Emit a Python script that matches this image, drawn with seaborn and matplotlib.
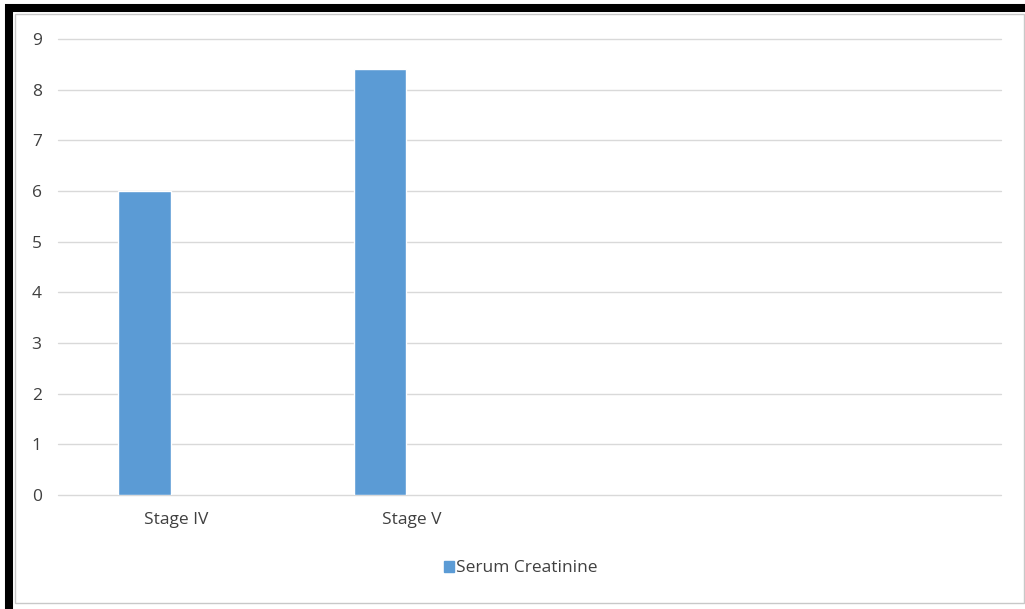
import pandas as pd
import seaborn as sns
import matplotlib.pyplot as plt
from matplotlib.patches import Rectangle

# values
stages = ['Stage IV', 'Stage V']
empty_slots = ['', ' ']
creatinine = [6.0, 8.4]
series = ['Serum Creatinine', 'blank']
yticks = list(range(0, 10))

df = pd.DataFrame({'stage': stages, 'value': creatinine, 'series': series[0]})

sns.set_style('white')
plt.rcParams['font.family'] = ['Open Sans', 'DejaVu Sans']

fig = plt.figure(figsize=(10.25, 6.09), dpi=100)
ax = fig.add_axes([0.0569, 0.187, 0.9194, 0.749])

sns.barplot(data=df, x='stage', y='value', hue='series', hue_order=series,
            order=stages + empty_slots, palette=['#5b9bd5', '#ed7d31'],
            saturation=1, width=0.537, gap=0.17, dodge=True, legend=False,
            ax=ax, errorbar=None)

ax.set_ylim(0, 9)
ax.set_yticks(yticks)
ax.grid(axis='y', color='#d9d9d9', linewidth=1)
for gl in ax.get_ygridlines():
    gl.set_clip_on(False)
ax.set_axisbelow(True)
for s in ax.spines.values():
    s.set_visible(False)
ax.set_xlabel('')
ax.set_ylabel('')
ax.tick_params(axis='y', length=0, pad=12, labelsize=12.5, labelcolor='#404040')
ax.tick_params(axis='x', length=0, pad=12, labelsize=12.5, labelcolor='#404040')

# legend with the one real series
handle = Rectangle((0, 0), 1, 1, color='#5b9bd5')
fig.legend([handle], [series[0]], loc='center', bbox_to_anchor=(0.508, 0.067),
           frameon=False, fontsize=12.5, handlelength=0.6, handleheight=0.6,
           handletextpad=0.1, labelcolor='#404040')

# picture frame
fig.patches.append(Rectangle((15 / 1025, 1 - 603 / 609), 1009 / 1025, 589 / 609,
                             transform=fig.transFigure, fill=False,
                             edgecolor='#c8c8c8', linewidth=1))
fig.patches.append(Rectangle((9 / 1025, -4 / 609), 1.1, 1 - 4 / 609,
                             transform=fig.transFigure, fill=False,
                             edgecolor='black', linewidth=5.8))

fig.savefig('out.png', dpi=100)
